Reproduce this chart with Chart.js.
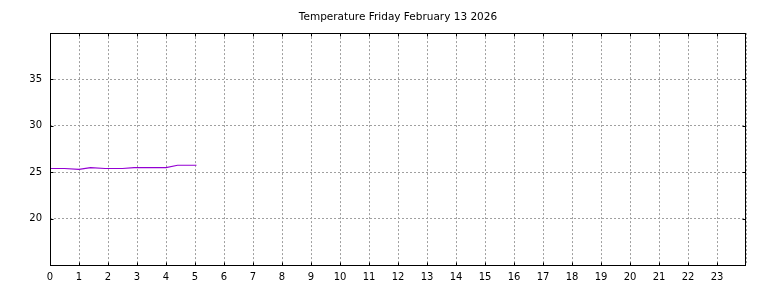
<!DOCTYPE html>
<html>
<head>
<meta charset="utf-8">
<script src="https://cdn.jsdelivr.net/npm/chart.js@4/dist/chart.umd.min.js"></script>
<style>
  html, body { margin: 0; padding: 0; background: #fff; }
  #wrap { width: 768px; height: 288px; }
</style>
</head>
<body>
<div id="wrap"><canvas id="tempChart"></canvas></div>
<script>
// readings (hour of day, deg)
const hours = [0, 0.5, 1.0, 1.4, 1.9, 2.5, 2.9, 3.5, 4.0, 4.4, 5.05];
const temps = [25.4, 25.4, 25.3, 25.5, 25.4, 25.4, 25.5, 25.5, 25.5, 25.75, 25.75];
const yTicks = [20, 25, 30, 35];
const titleText = "Temperature Friday February 13 2026";

const points = hours.map((h, i) => ({ x: h, y: temps[i] }));

// box around the plot with short inward tick marks
const frame = {
  id: "frame",
  afterDraw(chart) {
    const a = chart.chartArea;
    const ctx = chart.ctx;
    const l = Math.round(a.left) + 0.5, r = Math.round(a.right) - 0.5;
    const t = Math.round(a.top) + 0.5, b = Math.round(a.bottom) + 0.5;
    ctx.save();
    ctx.strokeStyle = "#000";
    ctx.lineWidth = 1;
    ctx.strokeRect(l, t, r - l, b - t);
    ctx.beginPath();
    chart.scales.x.ticks.forEach(tk => {
      if (tk.value >= 24) return;
      const px = Math.round(chart.scales.x.getPixelForValue(tk.value)) + 0.5;
      ctx.moveTo(px, t); ctx.lineTo(px, t + 3);
      ctx.moveTo(px, b); ctx.lineTo(px, b - 3);
    });
    yTicks.forEach(v => {
      const py = Math.round(chart.scales.y.getPixelForValue(v)) + 0.5;
      ctx.moveTo(l, py); ctx.lineTo(l + 3, py);
      ctx.moveTo(r, py); ctx.lineTo(r - 3, py);
    });
    ctx.stroke();
    ctx.restore();
  }
};

const gridStyle = {
  color: "#a0a0a0",
  lineWidth: 1,
  drawTicks: false
};

new Chart("tempChart", {
  type: "line",
  data: {
    datasets: [{
      data: points,
      borderColor: "#9400d3",
      borderWidth: 1.2,
      pointRadius: 0,
      fill: false,
      tension: 0
    }]
  },
  options: {
    responsive: true,
    maintainAspectRatio: false,
    animation: false,
    layout: { padding: { left: 28, right: 0, top: 0, bottom: 0 } },
    plugins: {
      legend: { display: false },
      tooltip: { enabled: false },
      title: {
        display: true,
        text: titleText,
        color: "#000",
        font: { family: "DejaVu Sans", size: 10.5, weight: "normal", lineHeight: 1.15 },
        padding: { top: 11, bottom: 10 }
      }
    },
    scales: {
      x: {
        type: "linear",
        min: 0,
        max: 24,
        grid: gridStyle,
        border: { display: false, dash: [2, 2] },
        ticks: {
          stepSize: 1,
          color: "#000",
          padding: 6,
          maxRotation: 0,
          autoSkip: false,
          font: { family: "DejaVu Sans", size: 10 },
          callback: v => (v >= 24 ? "" : v)
        },
        afterFit: s => { s.height = 23; }
      },
      y: {
        min: 15,
        max: 40,
        grid: gridStyle,
        border: { display: false, dash: [2, 2] },
        ticks: {
          stepSize: 5,
          color: "#000",
          padding: 8,
          font: { family: "DejaVu Sans", size: 10 },
          callback: v => (yTicks.includes(v) ? v : "")
        },
        afterFit: s => { s.width = 22; }
      },
      // empty right axis, only keeps the margin on that side
      y2: {
        position: "right",
        min: 15,
        max: 40,
        grid: { display: false, drawTicks: false },
        border: { display: false },
        ticks: { display: false },
        afterFit: s => { s.width = 22; }
      }
    }
  },
  plugins: [frame]
});
</script>
</body>
</html>
